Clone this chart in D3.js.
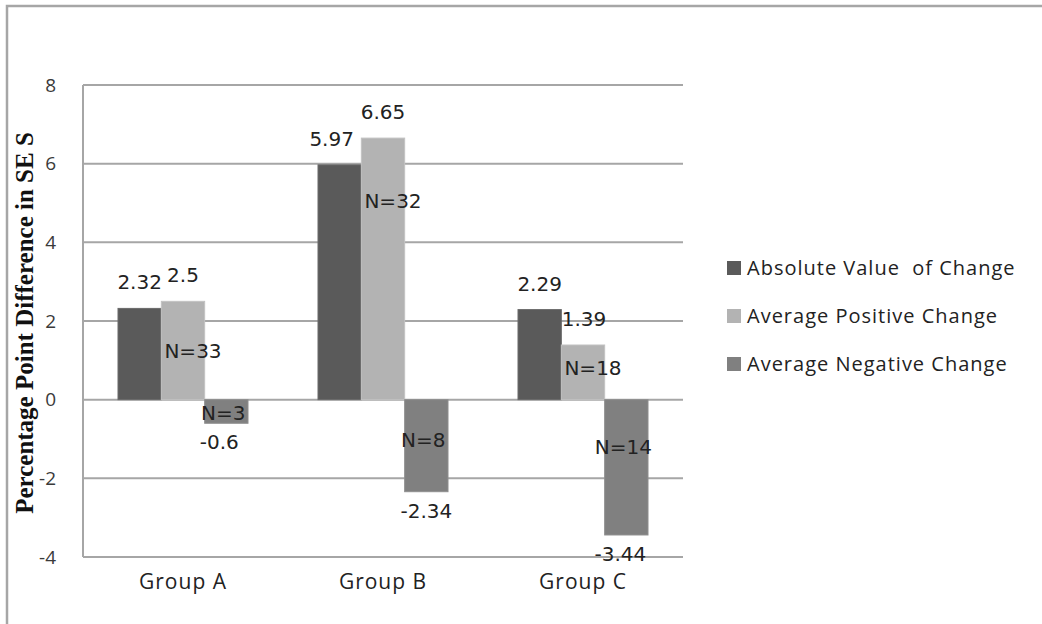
<!DOCTYPE html>
<html>
<head>
<meta charset="utf-8">
<script src="https://cdn.jsdelivr.net/npm/d3@7"></script>
<style>
  html, body { margin: 0; padding: 0; background: #fff; }
  svg { display: block; }
</style>
</head>
<body>
<svg id="chart" width="1042" height="624"></svg>
<script>
// ---- data ----
const groups = ["Group A", "Group B", "Group C"];
const seriesNames = ["Absolute Value  of Change", "Average Positive Change", "Average Negative Change"];
const absoluteChange = [2.32, 5.97, 2.29];
const positiveChange = [2.5, 6.65, 1.39];
const negativeChange = [-0.6, -2.34, -3.44];
const positiveCounts = [33, 32, 18];
const negativeCounts = [3, 8, 14];
const yTicks = [-4, -2, 0, 2, 4, 6, 8];
const yTitle = "Percentage Point Difference in SE S";

// ---- layout ----
const W = 1042, H = 624;
const plot = { left: 83, right: 683, top: 85, bottom: 557 };
const colors = ["#5a5a5a", "#b3b3b3", "#808080"];
const edge = ["#6a6a6a", "#c2c2c2", "#8e8e8e"];
// vertical anchor (data units) for the "N=" annotations
const posCountAt = [1.25, 5.05, 0.8];
const negCountAt = [-0.35, -1.03, -1.2];
const valueDx = [[0, 0, -7], [-8, 0, 0], [0, 1, -6]];

const svg = d3.select("#chart");

const series = [absoluteChange, positiveChange, negativeChange];

const x0 = d3.scaleBand().domain(groups).range([plot.left, plot.right])
  .paddingInner(0.35).paddingOuter(0.175);
const x1 = d3.scaleBand().domain(d3.range(series.length)).range([0, x0.bandwidth()]);
const y = d3.scaleLinear().domain([-4, 8]).range([plot.bottom, plot.top]);

// outer frame
svg.append("path")
  .attr("d", `M7,${H} L7,6 L${W},6`)
  .attr("fill", "none").attr("stroke", "#a6a6a6").attr("stroke-width", 2.5);

// y axis tick labels
const yAxis = d3.axisLeft(y).tickValues(yTicks).tickSize(0).tickPadding(27)
  .tickFormat(d => String(d));
const gAxis = svg.append("g").attr("transform", `translate(${plot.left},0)`).call(yAxis);
gAxis.select(".domain").remove();
gAxis.selectAll("text")
  .attr("font-family", "'Open Sans', sans-serif").attr("font-size", 19)
  .attr("fill", "#3a3a3a");

// gridlines
svg.append("g").selectAll("line").data(yTicks).join("line")
  .attr("x1", plot.left).attr("x2", plot.right)
  .attr("y1", d => y(d)).attr("y2", d => y(d))
  .attr("stroke", "#a6a6a6").attr("stroke-width", 2);

svg.append("line")
  .attr("x1", plot.left).attr("x2", plot.left)
  .attr("y1", plot.top).attr("y2", plot.bottom)
  .attr("stroke", "#a6a6a6").attr("stroke-width", 2);

// bars
const barData = [];
groups.forEach((g, gi) => {
  series.forEach((s, si) => barData.push({ g, gi, si, v: s[gi] }));
});

svg.append("g").selectAll("rect").data(barData).join("rect")
  .attr("x", d => x0(d.g) + x1(d.si))
  .attr("width", x1.bandwidth())
  .attr("y", d => y(Math.max(0, d.v)))
  .attr("height", d => Math.abs(y(d.v) - y(0)))
  .attr("fill", d => colors[d.si])
  .attr("stroke", d => edge[d.si]).attr("stroke-width", 1);

// value labels
const labelFont = "'DejaVu Sans', Verdana, sans-serif";
svg.append("g").selectAll("text").data(barData).join("text")
  .attr("x", d => x0(d.g) + x1(d.si) + x1.bandwidth() / 2 + valueDx[d.gi][d.si])
  .attr("y", d => d.v >= 0 ? y(d.v) - 19 : y(d.v) + 26)
  .attr("text-anchor", "middle")
  .attr("font-family", labelFont).attr("font-size", 20).attr("fill", "#222")
  .text(d => d.v);

// count annotations
const countData = groups.flatMap((g, gi) => [
  { g, si: 1, at: posCountAt[gi], n: positiveCounts[gi], dx: 10 },
  { g, si: 2, at: negCountAt[gi], n: negativeCounts[gi], dx: -3 }
]);
svg.append("g").selectAll("text").data(countData).join("text")
  .attr("x", d => x0(d.g) + x1(d.si) + x1.bandwidth() / 2 + d.dx)
  .attr("y", d => y(d.at))
  .attr("dy", "0.35em")
  .attr("text-anchor", "middle")
  .attr("font-family", labelFont).attr("font-size", 20).attr("fill", "#222")
  .text(d => "N=" + d.n);

// category labels
svg.append("g").selectAll("text").data(groups).join("text")
  .attr("x", d => x0(d) + x0.bandwidth() / 2)
  .attr("y", 589)
  .attr("text-anchor", "middle")
  .attr("font-family", "'Open Sans', sans-serif").attr("font-size", 21)
  .attr("letter-spacing", 1)
  .attr("fill", "#222")
  .text(d => d);

// y axis title
svg.append("text")
  .attr("transform", `translate(33,${(plot.top + plot.bottom) / 2 + 2}) rotate(-90)`)
  .attr("text-anchor", "middle")
  .attr("font-family", "'Liberation Serif', 'Times New Roman', serif")
  .attr("font-weight", "bold").attr("font-size", 25).attr("fill", "#111")
  .text(yTitle);

// legend
const legend = svg.append("g").attr("transform", "translate(727,268)");
const rows = legend.selectAll("g").data(seriesNames).join("g")
  .attr("transform", (d, i) => `translate(0,${i * 48})`);
rows.append("rect").attr("x", 0).attr("y", -7).attr("width", 14).attr("height", 14)
  .attr("fill", (d, i) => colors[i]);
rows.append("text").attr("x", 20).attr("dy", "0.35em")
  .attr("font-family", "'Open Sans', sans-serif").attr("font-size", 20)
  .attr("letter-spacing", 1)
  .attr("fill", "#222")
  .style("white-space", "pre")
  .text(d => d);
</script>
</body>
</html>
